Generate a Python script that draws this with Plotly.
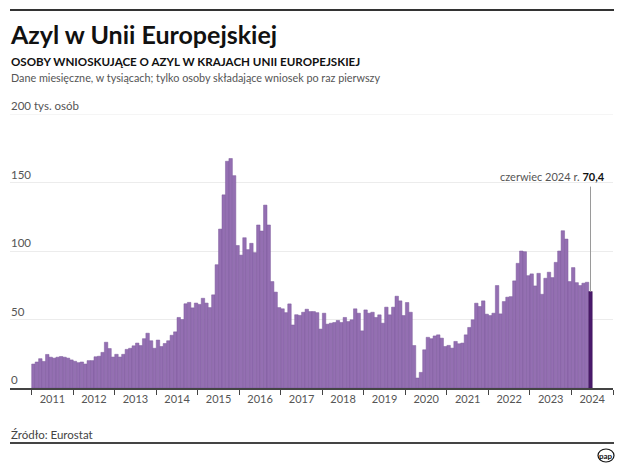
import plotly.graph_objects as go

# monthly first-time asylum applicants in EU, thousands (Jan 2011 - Jun 2024)
y2011 = [17.5, 19, 21.4, 19.4, 24.5, 22.5, 21.8, 22.5, 23, 22.5, 21.8, 20.5]
y2012 = [19.5, 18.5, 19, 17.5, 20, 20, 22.8, 23.2, 26, 33.4, 28.8, 22.6]
y2013 = [24.6, 22.6, 24.6, 28.2, 29, 30.8, 32.8, 31, 36, 40, 34.5, 29]
y2014 = [35, 30.3, 32.5, 34.5, 38.5, 41, 51.5, 50, 61.5, 62.5, 58.5, 62]
y2015 = [61, 65.5, 62, 58.7, 68, 90, 116, 141, 165.5, 167.5, 155, 104]
y2016 = [97, 109.7, 101, 105.6, 98.8, 119, 114.6, 133.5, 119, 77.7, 70, 58.7]
y2017 = [57.8, 55, 61.4, 46, 53.5, 53, 55.3, 57.5, 55.8, 55.8, 55, 43]
y2018 = [54.6, 46.6, 47.3, 47.8, 49.3, 47.8, 51.5, 48.5, 49.8, 57.8, 54.6, 41.7]
y2019 = [57, 54.6, 55.3, 51.5, 53.4, 47.3, 59, 53.4, 59, 67, 63.6, 52.9]
y2020 = [62.4, 55.3, 31, 7.3, 11.4, 27.9, 37, 36, 38, 38.8, 36.4, 30.3]
y2021 = [31.1, 29.1, 34, 32.3, 32.8, 38.8, 44.2, 49.8, 61.9, 59.5, 63.6, 53.9]
y2022 = [52.9, 54.6, 74.8, 54.1, 63.1, 66.3, 66.7, 78.2, 91, 100, 99.5, 82]
y2023 = [83.3, 74.5, 83.7, 68.4, 80.1, 84.5, 80.6, 91.7, 100, 114.8, 108.7, 77.7]
y2024 = [87.9, 76.9, 74.8, 76.5, 77.2, 70.4]

years = ["2011", "2012", "2013", "2014", "2015", "2016", "2017", "2018",
         "2019", "2020", "2021", "2022", "2023", "2024"]
y_ticks = [0, 50, 100, 150, 200]
y_ticktext = ["0", "50", "100", "150", "200 tys. osób"]
last_label = "czerwiec 2024 r."
last_value_text = "70,4"

values = (y2011 + y2012 + y2013 + y2014 + y2015 + y2016 + y2017 + y2018 +
          y2019 + y2020 + y2021 + y2022 + y2023 + y2024)
n = len(values)
xs = [i + 0.5 for i in range(n)]

FONT = "Lato"
W, H = 625, 468
ML, MR, MT, MB = 10, 12, 114, 80
PW = W - ML - MR
PH = H - MT - MB


def px(x):
    return (x - ML) / PW


def py(y):
    return (H - MB - y) / PH


colors = ["#946fb2"] * (n - 1) + ["#4a1a6b"]
line_colors = ["#7d5a9c"] * (n - 1) + ["#3c1259"]

fig = go.Figure()
fig.add_trace(go.Bar(
    x=xs, y=values, width=1.0,
    marker=dict(color=colors, line=dict(color=line_colors, width=0.5)),
    hoverinfo="skip",
))

n_years = len(years)
fig.update_layout(
    width=W, height=H,
    margin=dict(l=ML, r=MR, t=MT, b=MB),
    paper_bgcolor="white", plot_bgcolor="white",
    showlegend=False, bargap=0,
    font=dict(family=FONT, color="#555555", size=11),
    xaxis=dict(
        range=[-6.27, 12 * n_years],
        tickvals=[12 * i + 6 for i in range(n_years)],
        ticktext=years,
        ticks="", showgrid=False, zeroline=False,
        showline=True, linecolor="#444444", linewidth=1.5,
        tickfont=dict(size=11, color="#555555"),
        minor=dict(tickvals=[12 * i for i in range(n_years + 1)],
                   ticks="outside", ticklen=5, tickcolor="#444444",
                   tickwidth=1, showgrid=False),
        fixedrange=True,
    ),
    yaxis=dict(
        range=[0, 200],
        tickvals=y_ticks, showticklabels=False,
        ticks="", showgrid=True, gridcolor="#ececec", gridwidth=1,
        zeroline=False, showline=False,
        fixedrange=True,
    ),
)

# top gridline (at the range edge)
fig.add_shape(type="line", xref="paper", yref="y", layer="below",
              x0=0, x1=1, y0=y_ticks[-1], y1=y_ticks[-1],
              line=dict(color="#ececec", width=1))

# y tick labels placed above gridlines, left-aligned
for v, t in zip(y_ticks, y_ticktext):
    fig.add_annotation(x=px(9), y=v, xref="paper", yref="y",
                       xanchor="left", yanchor="bottom", yshift=0,
                       showarrow=False, text=t,
                       font=dict(family=FONT, size=11.5, color="#555555"))

# annotation line for last value
fig.add_shape(type="line", xref="x", yref="y",
              x0=xs[-1], x1=xs[-1], y0=values[-1], y1=147,
              line=dict(color="#9a9a9a", width=1))
fig.add_annotation(
    x=xs[-1], y=147, xref="x", yref="y", xanchor="right", yanchor="bottom",
    xshift=16, yshift=2, showarrow=False,
    text=f"{last_label} <b><span style='color:#111111'>{last_value_text}</span></b>",
    font=dict(family=FONT, size=11, color="#555555"),
)

# header
fig.add_shape(type="line", xref="paper", yref="paper",
              x0=px(10), x1=px(614), y0=py(10), y1=py(10),
              line=dict(color="#333333", width=2))
fig.add_annotation(x=px(8), y=py(34), xref="paper", yref="paper",
                   xanchor="left", yanchor="middle", showarrow=False,
                   text="<b>Azyl w Unii Europejskiej</b>",
                   font=dict(family=FONT, size=25, color="#111111"))
fig.add_annotation(x=px(9), y=py(61), xref="paper", yref="paper",
                   xanchor="left", yanchor="middle", showarrow=False,
                   text="<b>OSOBY WNIOSKUJĄCE O AZYL W KRAJACH UNII EUROPEJSKIEJ</b>",
                   font=dict(family=FONT, size=11.6, color="#111111"))
fig.add_annotation(x=px(9), y=py(77), xref="paper", yref="paper",
                   xanchor="left", yanchor="middle", showarrow=False,
                   text="Dane miesięczne, w tysiącach; tylko osoby składające wniosek po raz pierwszy",
                   font=dict(family=FONT, size=10.8, color="#555555"))

# footer
fig.add_annotation(x=px(9), y=py(434), xref="paper", yref="paper",
                   xanchor="left", yanchor="middle", showarrow=False,
                   text="Źródło: Eurostat",
                   font=dict(family=FONT, size=11.5, color="#444444"))
fig.add_shape(type="line", xref="paper", yref="paper",
              x0=px(10), x1=px(614), y0=py(443), y1=py(443),
              line=dict(color="#444444", width=2))
fig.add_shape(type="circle", xref="paper", yref="paper",
              x0=px(598), x1=px(614), y0=py(449), y1=py(462),
              line=dict(color="#111111", width=1.2), fillcolor="white")
fig.add_annotation(x=px(606), y=py(455.5), xref="paper", yref="paper",
                   xanchor="center", yanchor="middle", showarrow=False,
                   text="<b>pap</b>",
                   font=dict(family=FONT, size=8, color="#111111"))

fig.write_html("out.html",
               config={"displayModeBar": False, "staticPlot": True},
               post_script="document.body.style.margin='0';"
                           "document.body.style.overflow='hidden';")
